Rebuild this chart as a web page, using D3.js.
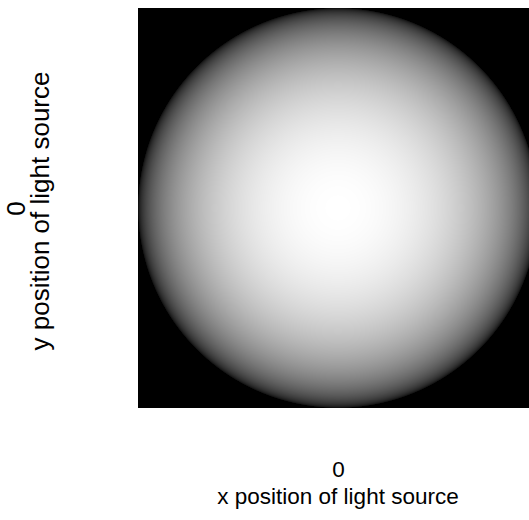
<!DOCTYPE html>
<html>
<head>
<meta charset="utf-8">
<script src="https://cdn.jsdelivr.net/npm/d3@7"></script>
<style>
  html, body { margin: 0; padding: 0; background: #fff; overflow: hidden; }
  svg { display: block; }
  text { font-family: "Liberation Sans", Arial, sans-serif; fill: #000; }
</style>
</head>
<body>
<svg id="chart" width="529" height="520"></svg>
<script>
// Light source position (in sphere units) and the axis ticks shown
const lightX = [0];
const lightY = [0];
const xTicks = [0];
const yTicks = [0];
const xTitle = "x position of light source";
const yTitle = "y position of light source";

const plot = { left: 138, top: 8, size: 400 };
const res = 400; // shading raster resolution
const fontSize = 22.5;
const yFontSize = 26;

const x = d3.scaleLinear().domain([-1, 1]).range([plot.left, plot.left + plot.size]);
const y = d3.scaleLinear().domain([-1, 1]).range([plot.top + plot.size, plot.top]);

const svg = d3.select("#chart");

// Lambertian shading of a unit sphere lit from (lightX, lightY, 1)
const lx = lightX[0], ly = lightY[0], lz = 1;
const ln = Math.hypot(lx, ly, lz);
const canvas = document.createElement("canvas");
canvas.width = res; canvas.height = res;
const ctx = canvas.getContext("2d");
const img = ctx.createImageData(res, res);
const px = d3.scaleLinear().domain([0, res]).range([plot.left, plot.left + plot.size]);
const py = d3.scaleLinear().domain([0, res]).range([plot.top, plot.top + plot.size]);
for (let j = 0; j < res; j++) {
  for (let i = 0; i < res; i++) {
    const u = x.invert(px(i + 0.5));
    const v = y.invert(py(j + 0.5));
    const r2 = u * u + v * v;
    let g = 0;
    if (r2 < 1) {
      const w = Math.sqrt(1 - r2);
      g = Math.max(0, (u * lx + v * ly + w * lz) / ln);
    }
    const k = (j * res + i) * 4;
    const c = Math.round(255 * g);
    img.data[k] = c; img.data[k + 1] = c; img.data[k + 2] = c; img.data[k + 3] = 255;
  }
}
ctx.putImageData(img, 0, 0);

svg.append("image")
  .attr("x", x(-1)).attr("y", y(1))
  .attr("width", x(1) - x(-1)).attr("height", y(-1) - y(1))
  .attr("preserveAspectRatio", "none")
  .attr("href", canvas.toDataURL());

// Axes: tick labels only, no domain lines or tick marks
const xAxis = svg.append("g")
  .attr("transform", `translate(0,${y(-1) + 69})`)
  .call(d3.axisBottom(x).tickValues(xTicks).tickFormat(d3.format("d")).tickSize(0));
xAxis.select(".domain").remove();
xAxis.selectAll("text")
  .attr("font-size", fontSize).attr("font-family", "Liberation Sans, Arial, sans-serif")
  .attr("fill", "#000").attr("y", 0).attr("dy", 0);

const yAxis = svg.append("g")
  .attr("transform", `translate(${x(-1) - 113},0)`)
  .call(d3.axisLeft(y).tickValues(yTicks).tickFormat(d3.format("d")).tickSize(0));
yAxis.select(".domain").remove();
yAxis.selectAll("text")
  .attr("font-size", yFontSize).attr("font-family", "Liberation Sans, Arial, sans-serif")
  .attr("fill", "#000").attr("text-anchor", "middle")
  .attr("x", 0).attr("y", 0).attr("dy", 0)
  .attr("transform", "rotate(-90)");

svg.append("text")
  .attr("x", x(0)).attr("y", y(-1) + 96)
  .attr("text-anchor", "middle").attr("font-size", fontSize)
  .text(xTitle);

svg.append("text")
  .attr("transform", `translate(${x(-1) - 89},${y(0) + 3}) rotate(-90)`)
  .attr("text-anchor", "middle").attr("font-size", yFontSize)
  .text(yTitle);
</script>
</body>
</html>
